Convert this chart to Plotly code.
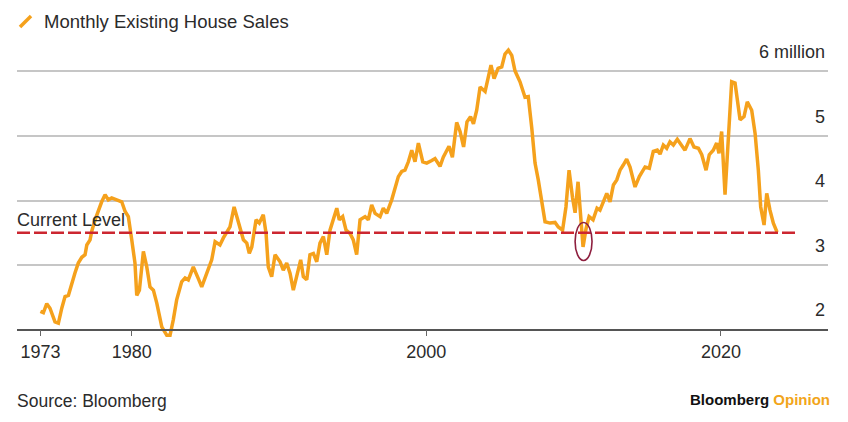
import plotly.graph_objects as go

# ---- data ----
years = [1973.80, 1974.00, 1974.23, 1974.45, 1974.79, 1975.02, 1975.25, 1975.47, 1975.70, 1975.93,
         1976.15, 1976.37, 1976.61, 1976.83, 1976.95, 1977.17, 1977.28, 1977.51, 1977.73, 1977.96,
         1978.19, 1978.41, 1978.64, 1978.98, 1979.32, 1979.55, 1979.77, 1980.00, 1980.22, 1980.34,
         1980.52, 1980.79, 1981.02, 1981.24, 1981.47, 1981.70, 1982.04, 1982.38, 1982.60, 1982.82,
         1983.05, 1983.39, 1983.62, 1983.84, 1984.18, 1984.52, 1984.75, 1985.09, 1985.43, 1985.66,
         1985.99, 1986.22, 1986.56, 1986.67, 1986.95, 1987.24, 1987.58, 1987.81, 1987.98, 1988.15,
         1988.44, 1988.66, 1988.93, 1989.12, 1989.27, 1989.50, 1989.73, 1990.07, 1990.29, 1990.52,
         1990.75, 1990.97, 1991.20, 1991.47, 1991.65, 1991.88, 1992.10, 1992.33, 1992.56, 1992.78,
         1993.01, 1993.24, 1993.46, 1993.69, 1993.92, 1994.09, 1994.32, 1994.55, 1994.82, 1995.04,
         1995.27, 1995.50, 1995.84, 1996.06, 1996.29, 1996.52, 1996.86, 1997.08, 1997.31, 1997.65,
         1997.88, 1998.10, 1998.33, 1998.55, 1998.78, 1999.01, 1999.23, 1999.46, 1999.76, 2000.03,
         2000.37, 2000.59, 2000.93, 2001.15, 2001.54, 2001.77, 2002.06, 2002.29, 2002.53, 2002.76,
         2003.00, 2003.20, 2003.42, 2003.65, 2003.99, 2004.39, 2004.60, 2004.87, 2005.12, 2005.34,
         2005.57, 2005.80, 2006.02, 2006.36, 2006.70, 2006.92, 2007.16, 2007.38, 2007.60, 2007.83,
         2008.06, 2008.40, 2008.74, 2008.96, 2009.25, 2009.48, 2009.69, 2009.93, 2010.10, 2010.30,
         2010.50, 2010.64, 2010.84, 2011.05, 2011.32, 2011.59, 2011.79, 2012.02, 2012.25, 2012.47,
         2012.70, 2012.93, 2013.15, 2013.37, 2013.60, 2013.83, 2014.17, 2014.46, 2014.85, 2015.14,
         2015.41, 2015.68, 2015.87, 2016.09, 2016.32, 2016.54, 2016.77, 2017.04, 2017.34, 2017.56,
         2017.90, 2018.17, 2018.47, 2018.70, 2018.99, 2019.21, 2019.48, 2019.71, 2019.87, 2020.05,
         2020.28, 2020.50, 2020.73, 2020.96, 2021.30, 2021.57, 2021.79, 2022.09, 2022.32, 2022.54,
         2022.70, 2022.93, 2023.11, 2023.33, 2023.56, 2023.81]

sales = [2.28, 2.26, 2.40, 2.33, 2.12, 2.10, 2.33, 2.51, 2.53, 2.72,
         2.88, 3.03, 3.12, 3.16, 3.31, 3.39, 3.52, 3.70, 3.85, 3.98,
         4.09, 4.01, 4.04, 4.01, 3.98, 3.83, 3.75, 3.39, 3.03, 2.53,
         2.61, 3.21, 2.97, 2.66, 2.61, 2.41, 2.04, 1.91, 1.91, 2.15,
         2.46, 2.74, 2.80, 2.77, 2.97, 2.79, 2.66, 2.87, 3.08, 3.36,
         3.31, 3.42, 3.54, 3.59, 3.90, 3.65, 3.39, 3.34, 3.18, 3.28,
         3.70, 3.65, 3.78, 3.49, 2.97, 2.82, 3.16, 3.05, 2.92, 3.03,
         2.87, 2.61, 2.82, 3.08, 2.82, 2.77, 3.16, 3.18, 3.05, 3.34,
         3.44, 3.16, 3.54, 3.70, 3.88, 3.70, 3.75, 3.54, 3.49, 3.39,
         3.16, 3.70, 3.75, 3.70, 3.93, 3.80, 3.75, 3.88, 3.80, 4.01,
         4.21, 4.37, 4.45, 4.47, 4.60, 4.78, 4.60, 4.89, 4.60, 4.58,
         4.62, 4.65, 4.53, 4.67, 4.84, 4.67, 5.21, 5.07, 4.83, 5.22,
         5.30, 5.19, 5.40, 5.76, 5.69, 6.10, 5.89, 6.05, 6.07, 6.27,
         6.33, 6.25, 6.01, 5.84, 5.60, 5.61, 5.12, 4.58, 4.32, 3.96,
         3.67, 3.65, 3.66, 3.59, 3.54, 3.90, 4.47, 4.04, 3.81, 4.29,
         3.78, 3.28, 3.56, 3.75, 3.70, 3.88, 3.85, 3.99, 4.11, 3.98,
         4.24, 4.32, 4.47, 4.55, 4.64, 4.52, 4.21, 4.37, 4.52, 4.50,
         4.76, 4.78, 4.72, 4.86, 4.81, 4.91, 4.86, 4.95, 4.86, 4.78,
         4.96, 4.83, 4.81, 4.71, 4.47, 4.71, 4.78, 4.89, 4.73, 5.07,
         4.09, 4.89, 5.84, 5.82, 5.25, 5.30, 5.53, 5.40, 5.04, 4.47,
         3.90, 3.62, 4.11, 3.85, 3.65, 3.51]

current_level = 3.5
level_span = [1972.21, 2025.30]

x_tick_vals = [1973.8, 1980, 2000, 2020]
x_tick_text = ["1973", "1980", "2000", "2020"]
y_tick_vals = [2, 3, 4, 5, 6]
y_tick_text = ["2", "3", "4", "5", "6 million"]

circle_x = [2010.10, 2011.25]
circle_y = [3.07, 3.66]

# ---- styles ----
ORANGE = "#F5A11C"
RED = "#CC2630"
TEXT = "#2b2b2b"
FONT = "Liberation Sans, Arial, Helvetica, sans-serif"

X_RANGE = [1972.21, 2027.27]
Y_RANGE = [1.76, 6.488]

fig = go.Figure()
fig.add_trace(go.Scatter(x=years, y=sales, mode="lines",
                         line=dict(color=ORANGE, width=3.5),
                         hoverinfo="skip", showlegend=False))
fig.add_trace(go.Scatter(x=level_span, y=[current_level, current_level], mode="lines",
                         line=dict(color=RED, width=2.5, dash="13px,4px"),
                         hoverinfo="skip", showlegend=False))

fig.add_shape(type="circle", xref="x", yref="y",
              x0=circle_x[0], x1=circle_x[1], y0=circle_y[0], y1=circle_y[1],
              line=dict(color="#8E1F3F", width=1.6))

# legend swatch (slash) and label
fig.add_shape(type="line", xref="paper", yref="paper",
              x0=0.0037, y0=1.0426, x1=0.0173, y1=1.0787,
              line=dict(color=ORANGE, width=3.5))
fig.add_annotation(xref="paper", yref="paper", x=0.0305, y=1.060,
                   text="Monthly Existing House Sales", showarrow=False,
                   xanchor="left", yanchor="middle",
                   font=dict(family=FONT, size=18.5, color=TEXT))

fig.add_annotation(xref="paper", yref="paper", x=-0.002, y=0.41,
                   text="Current Level", showarrow=False,
                   xanchor="left", yanchor="middle",
                   font=dict(family=FONT, size=18, color=TEXT))

fig.add_annotation(xref="paper", yref="paper", x=-0.002, y=-0.1836,
                   text="Source: Bloomberg", showarrow=False,
                   xanchor="left", yanchor="middle",
                   font=dict(family=FONT, size=17.5, color=TEXT))

fig.add_annotation(xref="paper", yref="paper", x=1.005, y=-0.180,
                   text="<b>Bloomberg</b> <b><span style='color:#F2A51A'>Opinion</span></b>",
                   showarrow=False, xanchor="right", yanchor="middle",
                   font=dict(family=FONT, size=15, color="#111111"))

fig.update_layout(
    width=848, height=422,
    margin=dict(l=17, r=20, t=40, b=77),
    paper_bgcolor="white", plot_bgcolor="white",
    font=dict(family=FONT, color=TEXT),
    xaxis=dict(range=X_RANGE, showgrid=False, zeroline=False,
               showline=True, linecolor="#555555", linewidth=1.5,
               ticks="outside", ticklen=6, tickwidth=1, tickcolor="#666666",
               tickvals=x_tick_vals, ticktext=x_tick_text,
               tickfont=dict(family=FONT, size=18, color=TEXT),
               anchor="free", position=(2 - Y_RANGE[0]) / (Y_RANGE[1] - Y_RANGE[0])),
    yaxis=dict(range=Y_RANGE, side="right", showgrid=True, gridcolor="#c6c6c6",
               gridwidth=1.5, zeroline=False, showline=False, ticks="",
               tickvals=y_tick_vals, ticktext=y_tick_text,
               ticklabelposition="inside top", ticklabelshift=-7,
               tickfont=dict(family=FONT, size=18, color=TEXT)),
)

fig.write_html("out.html")
